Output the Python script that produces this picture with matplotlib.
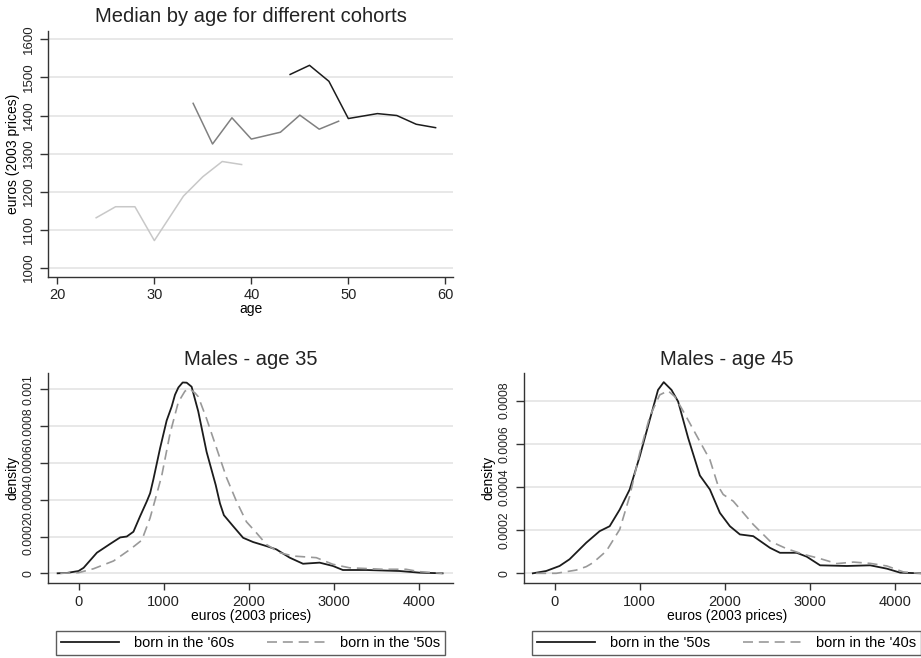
import numpy as np
import matplotlib
matplotlib.use('Agg')
import matplotlib.pyplot as plt

plt.rcParams['font.family'] = ['Liberation Sans', 'DejaVu Sans']

# median by age, three cohorts
age_70s = [24, 26, 28, 30, 33, 35, 37, 39]
med_70s = [1131, 1160, 1160, 1071, 1188, 1239, 1279, 1271]
age_60s = [34, 36, 38, 40, 43, 45, 47, 49]
med_60s = [1432, 1325, 1394, 1338, 1356, 1401, 1364, 1385]
age_50s = [44, 46, 48, 50, 53, 55, 57, 59]
med_50s = [1508, 1532, 1490, 1392, 1405, 1400, 1377, 1368]

# density at age 35: born in the '60s (solid), born in the '50s (dashed)
x35_60s = [-246, -137, 0, 59, 215, 371, 488, 566, 644, 722, 800, 840, 878, 957, 1034, 1093,
           1132, 1172, 1222, 1269, 1327, 1405, 1503, 1610, 1660, 1706, 1815, 1932, 2049,
           2205, 2322, 2479, 2635, 2830, 2986, 3103, 3376, 3767, 4001, 4274]
d35_60s = [0, 0.000002, 0.0000126, 0.00003, 0.000112, 0.00016, 0.000195, 0.0002, 0.000226,
           0.00031, 0.00039, 0.000435, 0.00051, 0.00068, 0.00083, 0.000906, 0.00097, 0.00101,
           0.001037, 0.001036, 0.001014, 0.00088, 0.00066, 0.00048, 0.00038, 0.000316,
           0.000256, 0.000193, 0.00017, 0.000148, 0.00013, 0.000085, 0.000052, 0.000058,
           0.00004, 0.000018, 0.000018, 0.0000126, 0.0000036, 0]
x35_50s = [-215, 0, 176, 410, 605, 742, 839, 917, 976, 1074, 1171, 1249, 1300, 1367, 1405,
           1503, 1620, 1737, 1855, 1971, 2088, 2205, 2361, 2518, 2791, 2986, 3181, 3571,
           3845, 4001, 4274]
d35_50s = [0, 0.0000036, 0.000025, 0.000067, 0.00013, 0.00018, 0.0003, 0.00043, 0.00053,
           0.00076, 0.00093, 0.00099, 0.001003, 0.00098, 0.00096, 0.00084, 0.00068, 0.00052,
           0.00039, 0.00028, 0.00022, 0.000157, 0.000112, 0.000094, 0.000085, 0.000049,
           0.00003, 0.000022, 0.000022, 0.000009, 0]

# density at age 45: born in the '50s (solid), born in the '40s (dashed)
x45_50s = [-255, -98, 59, 176, 373, 529, 647, 765, 882, 1000, 1118, 1215, 1282, 1373, 1451,
           1569, 1706, 1824, 1941, 2059, 2176, 2333, 2529, 2647, 2843, 2961, 3118, 3431,
           3706, 3902, 4059, 4306]
d45_50s = [0, 0.0000108, 0.000034, 0.000065, 0.000142, 0.000195, 0.000218, 0.000295,
           0.000388, 0.000541, 0.000711, 0.000849, 0.000885, 0.000849, 0.000795, 0.000626,
           0.000453, 0.000388, 0.00028, 0.000218, 0.00018, 0.000172, 0.000118, 0.000095,
           0.000095, 0.000077, 0.000037, 0.000034, 0.000037, 0.0000215, 0.000003, 0]
x45_40s = [-216, 20, 255, 373, 451, 608, 765, 882, 1000, 1118, 1235, 1333, 1412, 1490, 1588,
           1706, 1824, 1922, 1980, 2098, 2216, 2333, 2529, 2725, 2922, 3118, 3314, 3510,
           3706, 3902, 4098, 4306]
d45_40s = [0, 0, 0.000015, 0.000031, 0.000049, 0.000103, 0.000203, 0.000357, 0.000557,
           0.000726, 0.000826, 0.000845, 0.000818, 0.000765, 0.000695, 0.00061, 0.000526,
           0.000403, 0.000365, 0.000334, 0.00028, 0.000226, 0.000149, 0.000114, 0.000088,
           0.000068, 0.000045, 0.000052, 0.000046, 0.000034, 0.000006, 0]

SPINE = '#333333'
GRID = '#e6e6e6'


def style(ax):
    for s in ['top', 'right']:
        ax.spines[s].set_visible(False)
    for s in ['left', 'bottom']:
        ax.spines[s].set_color(SPINE)
        ax.spines[s].set_linewidth(1.0)
    ax.tick_params(length=5, width=1, color=SPINE, labelsize=10.5, labelcolor='#222222')
    ax.tick_params(axis='y', length=6, pad=4)
    ax.yaxis.grid(True, color=GRID, linewidth=1.3)
    ax.set_axisbelow(True)


fig = plt.figure(figsize=(9.21, 6.58), dpi=100)

# top panel
ax = fig.add_axes([0.0525, 0.5795, 0.4394, 0.3738])
style(ax)
ax.plot(age_70s, med_70s, color='#c8c8c8', lw=1.1)
ax.plot(age_60s, med_60s, color='#808080', lw=1.1)
ax.plot(age_50s, med_50s, color='#1c1c1c', lw=1.1)
ax.set_xlim(19.07, 60.8)
ax.set_ylim(976, 1623)
ax.set_xticks([20, 30, 40, 50, 60])
yt = [1000, 1100, 1200, 1300, 1400, 1500, 1600]
ax.set_yticks(yt, [str(v) for v in yt], rotation=90, va='center', fontsize=9.5)
ax.set_xlabel('age', fontsize=10, labelpad=0)
ax.set_ylabel('euros (2003 prices)', fontsize=10, labelpad=2)
ax.set_title('Median by age for different cohorts', fontsize=14.5, pad=6, color='#222222')


def density_panel(rect, xs1, ys1, xs2, ys2, lab1, lab2, title, ymax, ytop):
    ax = fig.add_axes(rect)
    style(ax)
    ax.plot(xs1, ys1, color='#1c1c1c', lw=1.3, label=lab1)
    ax.plot(xs2, ys2, color='#999999', lw=1.2, dashes=(6, 3.5), label=lab2)
    ax.set_xlim(-355, 4400)
    ax.set_xticks([0, 1000, 2000, 3000, 4000])
    ticks = np.arange(0, ymax + 1e-9, 0.0002)
    ax.set_yticks(ticks, ['%g' % round(v, 4) for v in ticks], rotation=90, va='center',
                  fontsize=8.7)
    ax.set_ylim(-ytop * 0.05, ytop)
    ax.set_xlabel('euros (2003 prices)', fontsize=10, labelpad=0)
    ax.set_ylabel('density', fontsize=10, labelpad=2)
    ax.set_title(title, fontsize=14.5, pad=6, color='#222222')
    leg = ax.legend(loc='center', bbox_to_anchor=(0.018, -0.345, 0.962, 0.125), mode='expand',
                    ncol=2, fontsize=10.5, handlelength=4.0, handletextpad=1.0,
                    frameon=True, fancybox=False, borderaxespad=0, borderpad=0.35)
    leg.get_frame().set_edgecolor(SPINE)
    leg.get_frame().set_linewidth(1.0)
    return ax


density_panel([0.0525, 0.1135, 0.4397, 0.3192], x35_60s, d35_60s, x35_50s, d35_50s,
              "born in the '60s", "born in the '50s", 'Males - age 35', 0.001, 0.001087)
density_panel([0.5693, 0.1135, 0.4397, 0.3192], x45_50s, d45_50s, x45_40s, d45_40s,
              "born in the '50s", "born in the '40s", 'Males - age 45', 0.0008, 0.000926)

fig.savefig('out.png', dpi=100)
